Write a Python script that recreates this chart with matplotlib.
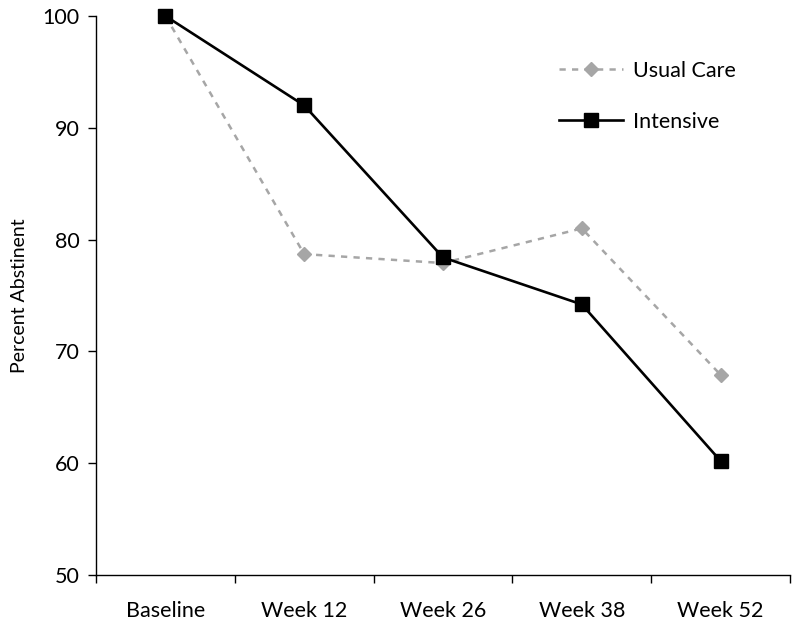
import matplotlib.pyplot as plt
import numpy as np

plt.rcParams['font.family'] = ['Lato', 'DejaVu Sans']

categories = ['Baseline', 'Week 12', 'Week 26', 'Week 38', 'Week 52']
usual_care = [100, 78.7, 77.9, 81.0, 67.9]
intensive = [100, 92.0, 78.4, 74.2, 60.2]
y_ticks = [50, 60, 70, 80, 90, 100]

fig = plt.figure(figsize=(8, 6.27), dpi=100)
ax = fig.add_axes([0.12, 0.083, 0.8675, 0.8915])

x = np.arange(len(categories))
ax.plot(x, usual_care, color='#A6A6A6', linestyle=(0, (2.5, 2.5)), linewidth=1.8,
        marker='D', markersize=7.5, label='Usual Care', clip_on=False)
ax.plot(x, intensive, color='black', linewidth=1.9,
        marker='s', markersize=10, label='Intensive', clip_on=False)

ax.set_xlim(-0.5, len(categories) - 0.5)
ax.set_ylim(50, 100)
ax.set_yticks(y_ticks)
ax.set_xticks(x)
ax.set_xticklabels(categories)
ax.set_xticks(np.arange(-0.5, len(categories)), minor=True)
ax.tick_params(axis='x', which='major', length=0, pad=19, labelsize=15.5)
ax.tick_params(axis='x', which='minor', length=6, direction='out', width=1)
ax.tick_params(axis='y', length=6, width=1, labelsize=15.5, pad=6)
ax.set_ylabel('Percent Abstinent', fontsize=14, labelpad=10)

for s in ['top', 'right']:
    ax.spines[s].set_visible(False)
ax.spines['left'].set_linewidth(1)
ax.spines['bottom'].set_linewidth(1)

ax.legend(loc='upper right', bbox_to_anchor=(0.95, 0.955), frameon=False,
          fontsize=15.5, handlelength=3.0, labelspacing=1.45, handletextpad=0.45)

fig.savefig('out.png', dpi=100)
